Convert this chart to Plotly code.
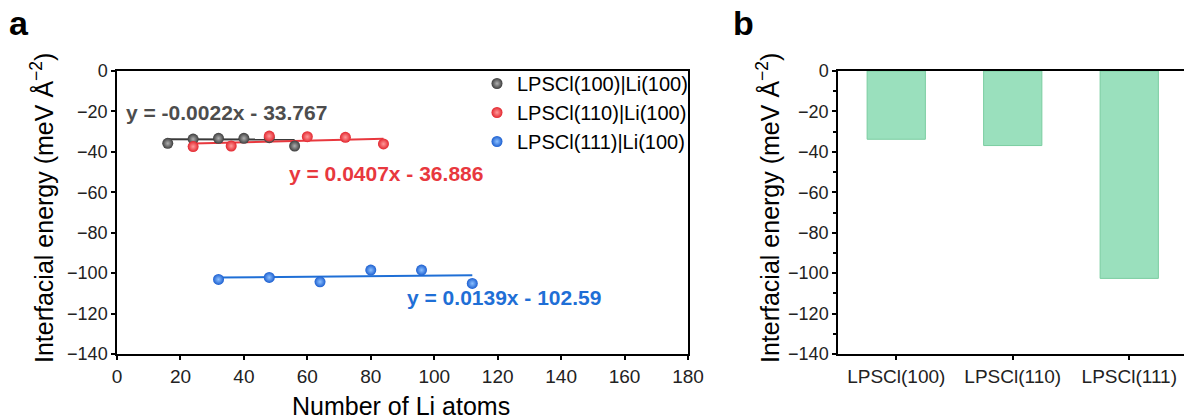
import plotly.graph_objects as go

# ---- data ----
series_names = ["LPSCl(100)|Li(100)", "LPSCl(110)|Li(100)", "LPSCl(111)|Li(100)"]
x_100 = [16, 24, 32, 40, 48, 56]
y_100 = [-35.8, -33.7, -33.3, -33.3, -33.0, -37.1]
x_110 = [24, 36, 48, 60, 72, 84]
y_110 = [-37.4, -37.1, -32.2, -32.5, -32.8, -36.1]
x_111 = [32, 48, 64, 80, 96, 112]
y_111 = [-103.1, -102.1, -104.3, -98.5, -98.5, -105.1]
fit_slopes = [-0.0022, 0.0407, 0.0139]
fit_intercepts = [-33.767, -36.886, -102.59]
fit_labels = ["y = -0.0022x - 33.767", "y = 0.0407x - 36.886", "y = 0.0139x - 102.59"]
bar_categories = ["LPSCl(100)", "LPSCl(110)", "LPSCl(111)"]
bar_values = [-33.767, -36.886, -102.59]

W, H = 1184, 419
FONT = "Arial, Liberation Sans, sans-serif"
marker_colors = ["#3c3c3c", "#e3262e", "#1c5fd0"]
marker_glow = ["#b0b0b0", "#ff9a9a", "#8cc0ff"]
line_colors = ["#3a3a3a", "#e8383e", "#1f6fd6"]
text_colors = ["#4d4d4d", "#e8383e", "#1f6fd6"]

fig = go.Figure()
xs = [x_100, x_110, x_111]
ys = [y_100, y_110, y_111]

# fit lines (behind markers)
for i in range(3):
    x0, x1 = min(xs[i]), max(xs[i])
    fig.add_trace(go.Scatter(
        x=[x0, x1], y=[fit_slopes[i] * x0 + fit_intercepts[i], fit_slopes[i] * x1 + fit_intercepts[i]],
        mode="lines", line=dict(color=line_colors[i], width=2),
        showlegend=False, hoverinfo="skip", xaxis="x", yaxis="y"))

for i in range(3):
    fig.add_trace(go.Scatter(
        x=xs[i], y=ys[i], mode="markers", name=series_names[i],
        marker=dict(size=11, color=marker_colors[i],
                    gradient=dict(type="radial", color=marker_glow[i]),
                    line=dict(width=0)),
        xaxis="x", yaxis="y"))

fig.add_trace(go.Bar(
    x=bar_categories, y=bar_values, width=0.5,
    marker=dict(color="#9ae0bd", line=dict(color="#7acda0", width=1)),
    showlegend=False, xaxis="x2", yaxis="y2"))


def px_x(p):
    return p / W


def px_y(p):
    return 1 - p / H


def axis_style(size):
    return dict(showline=True, linecolor="black", linewidth=1.5, ticks="outside",
                ticklen=4, tickwidth=1.5, tickcolor="black", zeroline=False,
                showgrid=False, tickfont=dict(family=FONT, size=size, color="#222"))


fig.update_layout(
    width=W, height=H,
    margin=dict(l=0, r=0, t=0, b=0, autoexpand=False),
    paper_bgcolor="white", plot_bgcolor="white",
    font=dict(family=FONT, color="black"),
    xaxis=dict(domain=[px_x(117), px_x(688)], range=[0, 180], dtick=20, mirror=True,
               anchor="y", **axis_style(19)),
    yaxis=dict(domain=[px_y(354), px_y(71)], range=[-140, 0], dtick=20, mirror=True,
               anchor="x", **axis_style(18)),
    xaxis2=dict(domain=[px_x(838), 1.0], range=[-0.5, 2.47], mirror=True,
                anchor="y2", type="category", **axis_style(19)),
    yaxis2=dict(domain=[px_y(354), px_y(71)], range=[-140, 0], dtick=20, mirror=False,
                anchor="x2",
                minor=dict(ticks="outside", dtick=10, ticklen=3, tickwidth=1.5, tickcolor="black"),
                **axis_style(18)),
    legend=dict(x=px_x(693), y=px_y(64), xanchor="right", yanchor="top",
                bgcolor="rgba(255,255,255,0)", borderwidth=0,
                font=dict(family=FONT, size=20, color="black"),
                itemwidth=30, tracegroupgap=0),
    showlegend=True,
)

annotations = [
    dict(text="<b>a</b>", x=px_x(19), y=px_y(23), xref="paper", yref="paper", showarrow=False,
         font=dict(family=FONT, size=34, color="black"), xanchor="center", yanchor="middle"),
    dict(text="<b>b</b>", x=px_x(743), y=px_y(23), xref="paper", yref="paper", showarrow=False,
         font=dict(family=FONT, size=34, color="black"), xanchor="center", yanchor="middle"),
    dict(text="Number of Li atoms", x=px_x(401), y=px_y(406), xref="paper", yref="paper",
         showarrow=False, font=dict(family=FONT, size=25, color="black"),
         xanchor="center", yanchor="middle"),
    dict(text="Interfacial energy (meV Å<sup>−2</sup>)", x=px_x(42), y=px_y(208),
         xref="paper", yref="paper", showarrow=False, textangle=-90,
         font=dict(family=FONT, size=25, color="black"), xanchor="center", yanchor="middle"),
    dict(text="Interfacial energy (meV Å<sup>−2</sup>)", x=px_x(768), y=px_y(208),
         xref="paper", yref="paper", showarrow=False, textangle=-90,
         font=dict(family=FONT, size=25, color="black"), xanchor="center", yanchor="middle"),
]
eq_pos = [(226, 113), (386, 173), (504, 297)]
for i in range(3):
    annotations.append(dict(text="<b>" + fit_labels[i] + "</b>", x=px_x(eq_pos[i][0]),
                            y=px_y(eq_pos[i][1]), xref="paper", yref="paper", showarrow=False,
                            font=dict(family=FONT, size=21, color=text_colors[i]),
                            xanchor="center", yanchor="middle"))
fig.update_layout(annotations=annotations)

fig.write_html("out.html", config={"displayModeBar": False},
               post_script="document.body.style.margin='0';document.body.style.overflow='hidden';")
